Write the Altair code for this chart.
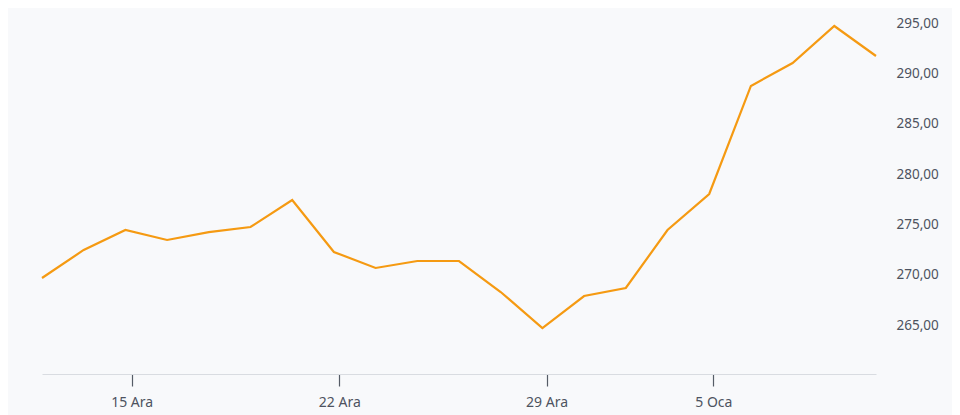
import altair as alt
import pandas as pd

dates = ["11 Ara", "12 Ara", "15 Ara", "16 Ara", "17 Ara", "18 Ara", "19 Ara",
         "22 Ara", "23 Ara", "24 Ara", "25 Ara", "26 Ara", "29 Ara", "30 Ara",
         "31 Ara", "2 Oca", "5 Oca", "6 Oca", "7 Oca", "8 Oca", "9 Oca"]
prices = [269.67, 272.46, 274.44, 273.45, 274.24, 274.74, 277.43,
          272.26, 270.67, 271.36, 271.36, 268.28, 264.70, 267.88,
          268.68, 274.44, 278.02, 288.76, 291.04, 294.72, 291.74]
tick_pos = [2.15, 7.13, 12.1, 16.1]
tick_labels = ["15 Ara", "22 Ara", "29 Ara", "5 Oca"]
y_ticks = [265, 270, 275, 280, 285, 290, 295]

df = pd.DataFrame({"i": list(range(len(dates))), "date": dates, "price": prices})

label_expr = "''"
for p, l in zip(reversed(tick_pos), reversed(tick_labels)):
    label_expr = f"abs(datum.value - {p}) < 0.01 ? '{l}' : ({label_expr})"

chart = alt.Chart(df).mark_line(color="#f59a12", strokeWidth=2.2).encode(
    x=alt.X("i:Q", scale=alt.Scale(domain=[0, 20], nice=False, zero=False),
            axis=alt.Axis(values=tick_pos, labelExpr=label_expr, title=None,
                          grid=False, domainColor="#d9dce1", domainWidth=1,
                          tickColor="#555b66", tickSize=12, tickWidth=1.2,
                          labelColor="#4d5360", labelFontSize=14, labelFont="Noto Sans",
                          labelPadding=9)),
    y=alt.Y("price:Q", scale=alt.Scale(domain=[260.13, 296.51], nice=False, zero=False),
            axis=alt.Axis(orient="right", values=y_ticks, title=None,
                          grid=False, domain=False, ticks=False,
                          labelColor="#4d5360", labelFontSize=13.5, labelFont="Noto Sans",
                          labelPadding=20, labelExpr="replace(format(datum.value, '.2f'), '.', ',')")),
).properties(
    width=834, height=366,
    autosize=alt.AutoSizeParams(type="none"),
    padding={"left": 34, "top": 0, "right": 76, "bottom": 41},
    background="#f8f9fb",
).configure_view(stroke=None)

chart.save("out.html", embed_options={"renderer": "svg", "actions": False})
